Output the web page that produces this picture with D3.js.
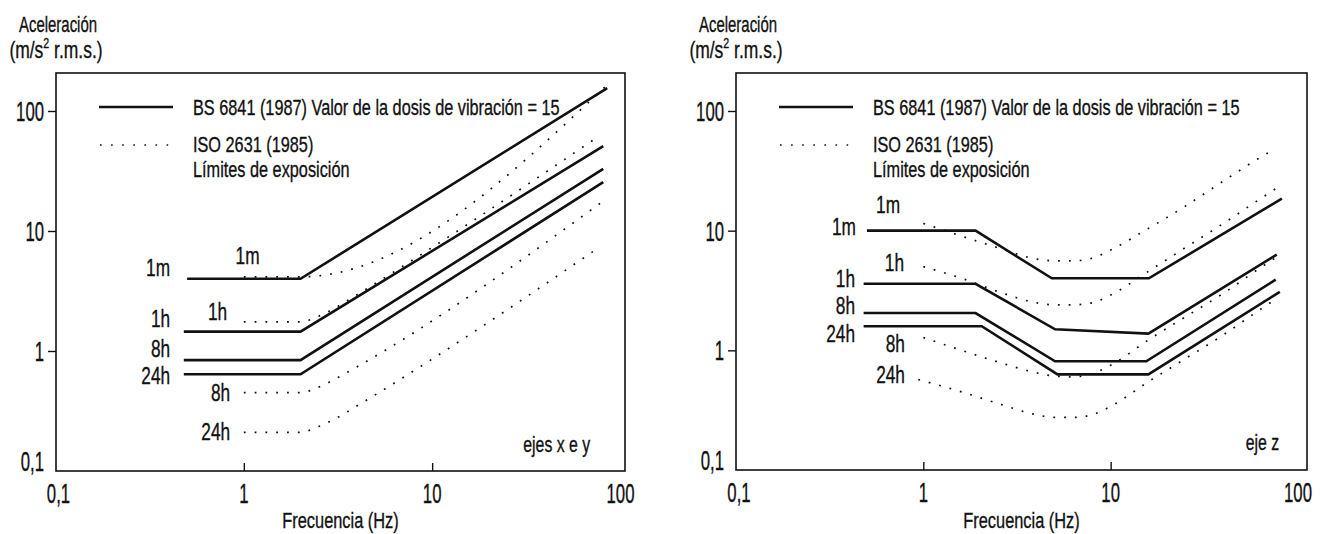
<!DOCTYPE html>
<html><head><meta charset="utf-8">
<script src="https://cdn.jsdelivr.net/npm/d3@7"></script>
<style>
html,body{margin:0;padding:0;background:#fff;}
svg{display:block;}
text{font-family:"Liberation Sans",Arial,sans-serif;fill:#111;stroke:#111;stroke-width:0.35px;}
</style></head>
<body>
<svg id="chart" width="1320" height="534"></svg>
<script>
// ---------------- DATA ----------------
const tickValues = [0.1, 1, 10, 100];
const tickLabels = ["0,1", "1", "10", "100"];
const curveNames = ["1m", "1h", "8h", "24h"];

// Left panel: ejes x e y  -- BS 6841 (solid), [frecuencia Hz, aceleración m/s2]
const bsXY1m  = [[0.5, 4.0], [2, 4.0], [85, 155]];
const bsXY1h  = [[0.48, 1.45], [2, 1.45], [81, 51]];
const bsXY8h  = [[0.48, 0.84], [2, 0.84], [81, 33]];
const bsXY24h = [[0.48, 0.64], [2, 0.64], [81, 25.5]];
// Left panel: ISO 2631 (dotted)
const isoXY1m  = [[1, 4.15], [2, 4.15], [85, 165]];
const isoXY1h  = [[1, 1.75], [2, 1.75], [2.5, 1.95], [3.15, 2.35], [4, 2.95], [76, 61]];
const isoXY8h  = [[1, 0.45], [2, 0.45], [2.5, 0.5], [3.15, 0.6], [4, 0.74], [80, 17.5]];
const isoXY24h = [[1, 0.21], [2, 0.21], [2.5, 0.235], [3.15, 0.28], [4, 0.35], [78, 7.4]];

// Right panel: eje z -- BS 6841 (solid)
const bsZ1m  = [[0.5, 10], [1.9, 10], [4.85, 4.0], [16, 4.0], [82, 18.5]];
const bsZ1h  = [[0.48, 3.6], [1.9, 3.6], [5.05, 1.5], [15.9, 1.38], [77, 6.3]];
const bsZ8h  = [[0.48, 2.05], [1.9, 2.05], [5.05, 0.81], [15.5, 0.81], [76, 3.9]];
const bsZ24h = [[0.48, 1.59], [2.05, 1.59], [5.2, 0.63], [15.9, 0.63], [80, 3.08]];
// Right panel: ISO 2631 (dotted)
const isoZ1m  = [[1, 11.5], [1.6, 9.0], [2.5, 7.2], [4, 5.8], [5, 5.6], [6.3, 5.6], [8, 5.9], [10, 6.9], [16, 10.5], [25, 16], [40, 26], [63, 41], [75, 48]];
const isoZ1h  = [[1, 5.0], [1.6, 4.0], [2.5, 3.1], [4, 2.5], [5, 2.4], [6.3, 2.4], [8, 2.5], [10, 2.9], [16, 4.6], [25, 7.2], [40, 11.5], [63, 18.5], [78, 23]];
const isoZ8h  = [[1, 1.28], [1.6, 1.0], [2.5, 0.8], [4, 0.65], [5, 0.61], [6.3, 0.6], [8, 0.64], [10, 0.75], [16, 1.23], [25, 1.9], [40, 3.0], [63, 4.9], [78, 6.1]];
const isoZ24h = [[0.94, 0.57], [1.6, 0.45], [2.5, 0.36], [4, 0.29], [5, 0.275], [6.3, 0.275], [8, 0.29], [10, 0.34], [16, 0.55], [25, 0.85], [40, 1.35], [63, 2.2], [78, 2.75]];

// Curve labels: [texto, frecuencia, aceleración, anclaje]
const labelsXY = [
  ["1m", 0.406, 4.92, "end"], ["1m", 1.047, 6.19, "middle"],
  ["1h", 0.406, 1.85, "end"], ["1h", 0.815, 2.15, "end"],
  ["8h", 0.406, 1.05, "end"], ["24h", 0.406, 0.625, "end"],
  ["8h", 0.846, 0.455, "end"], ["24h", 0.846, 0.215, "end"]
];
const labelsZ = [
  ["1m", 0.648, 16.4, "middle"], ["1m", 0.437, 10.9, "end"],
  ["1h", 0.789, 5.47, "end"], ["1h", 0.432, 4.02, "end"],
  ["8h", 0.432, 2.36, "end"], ["24h", 0.432, 1.39, "end"],
  ["8h", 0.798, 1.13, "end"], ["24h", 0.798, 0.634, "end"]
];

const yTitle1 = "Aceleración";
const xTitle = "Frecuencia (Hz)";
const legendBS = "BS 6841 (1987) Valor de la dosis de vibración = 15";
const legendISO1 = "ISO 2631 (1985)";
const legendISO2 = "Límites de exposición";

// ---------------- DRAW ----------------
const svg = d3.select("#chart");

function txt(sel, x, y, s, size, sx, anchor) {
  const g = sel.append("g").attr("transform", `translate(${x},${y}) scale(${sx},1)`);
  return g.append("text").attr("text-anchor", anchor || "start")
    .attr("font-size", size).text(s);
}

function panel(cfg) {
  const g = svg.append("g");
  const x = d3.scaleLog().domain([0.1, 100]).range(cfg.xr);
  const y = d3.scaleLog().domain([0.1, 100]).range(cfg.yr);
  const [L, R, T, B] = cfg.frame;

  g.append("rect").attr("x", L).attr("y", T).attr("width", R - L).attr("height", B - T)
    .attr("fill", "none").attr("stroke", "#111").attr("stroke-width", 1.6);

  const xa = d3.axisBottom(x).tickValues([1, 10]).tickSize(-8).tickFormat("");
  g.append("g").attr("transform", `translate(0,${B})`).call(xa)
    .call(s => s.select(".domain").remove())
    .call(s => s.selectAll("line").attr("stroke", "#111").attr("stroke-width", 1.4));
  const ya = d3.axisLeft(y).tickValues([1, 10, 100]).tickSize(8).tickFormat("");
  g.append("g").attr("transform", `translate(${L},0)`).call(ya)
    .call(s => s.select(".domain").remove())
    .call(s => s.selectAll("line").attr("stroke", "#111").attr("stroke-width", 1.4));

  tickValues.forEach((v, i) => {
    const xx = i === 0 ? x(v) + 3 : x(v);
    txt(g, xx, B + 32, tickLabels[i], 27, 0.62, "middle");
    const yy = i === 0 ? B : y(v) + 10;
    txt(g, L - 12, yy, tickLabels[i], 27, 0.62, "end");
  });

  txt(g, L + 2, 32, yTitle1, 22, 0.68, "middle");
  const t2 = txt(g, L, 58, "(m/s", 23, 0.76, "middle");
  t2.append("tspan").attr("font-size", 14).attr("dy", -10).text("2");
  t2.append("tspan").attr("dy", 10).text(" r.m.s.)");
  txt(g, (L + R) / 2, 528, xTitle, 22, 0.745, "middle");

  g.append("line").attr("x1", L + 43).attr("x2", L + 117).attr("y1", 107).attr("y2", 107)
    .attr("stroke", "#111").attr("stroke-width", 2.6);
  g.append("line").attr("x1", L + 44).attr("x2", L + 116).attr("y1", 145).attr("y2", 145)
    .attr("stroke", "#111").attr("stroke-width", 1.6).attr("stroke-dasharray", "1.6 9.5");
  txt(g, L + 137, 115, legendBS, 22, 0.74, "start");
  txt(g, L + 137, 152, legendISO1, 22, 0.74, "start");
  txt(g, L + 137, 177, legendISO2, 22, 0.74, "start");

  const line = d3.line().x(d => x(d[0])).y(d => y(d[1]));
  const smooth = d3.line().x(d => x(d[0])).y(d => y(d[1])).curve(d3.curveMonotoneX);

  cfg.iso.forEach(s => {
    g.append("path").attr("d", smooth(s)).attr("fill", "none").attr("stroke", "#111")
      .attr("stroke-width", 1.7).attr("stroke-dasharray", "1.8 9");
  });
  cfg.bs.forEach(s => {
    g.append("path").attr("d", line(s)).attr("fill", "none").attr("stroke", "#111")
      .attr("stroke-width", 2.6).attr("stroke-linejoin", "miter");
  });

  cfg.labels.forEach(l => {
    txt(g, x(l[1]), y(l[2]) + 8.5, l[0], 24, 0.72, l[3]);
  });
  txt(g, x(cfg.axisLabel[1]), y(cfg.axisLabel[2]) + 6, cfg.axisLabel[0], 22, 0.72, "end");
}

panel({
  xr: [55.5, 620.5], yr: [471, 111], frame: [56, 625, 73, 471],
  bs: [bsXY1m, bsXY1h, bsXY8h, bsXY24h],
  iso: [isoXY1m, isoXY1h, isoXY8h, isoXY24h],
  labels: labelsXY, axisLabel: ["ejes x e y", 69, 0.161]
});
panel({
  xr: [736, 1298], yr: [470, 111], frame: [736, 1307, 73, 470],
  bs: [bsZ1m, bsZ1h, bsZ8h, bsZ24h],
  iso: [isoZ1m, isoZ1h, isoZ8h, isoZ24h],
  labels: labelsZ, axisLabel: ["eje z", 79.4, 0.165]
});
</script>
</body></html>
